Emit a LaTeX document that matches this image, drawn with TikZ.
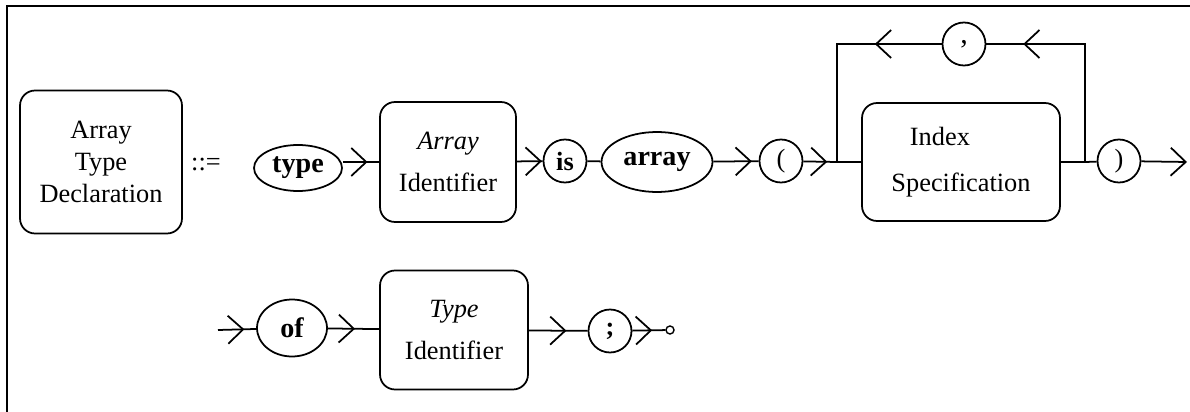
\documentclass[tikz,border=0pt]{standalone}
\usepackage{fontspec}
\setmainfont{Liberation Serif}
\usetikzlibrary{arrows.meta,shapes.geometric,decorations.markings}
\tikzset{
  rule/.style={draw,rounded corners=0.3cm,inner sep=0pt,align=center},
  word/.style={draw,ellipse,inner sep=0pt,execute at begin node=\fontsize{16}{19}\selectfont\bfseries},
  sym/.style={draw,circle,inner sep=0pt,minimum size=0.86cm},
  flow/.style={postaction={decorate},
    decoration={markings,mark=at position #1 with {\arrow{Straight Barb[length=3mm,width=5.6mm]}}}},
  tip/.style={-{Straight Barb[length=3mm,width=5.6mm]}}
}
\begin{document}
\begin{tikzpicture}[x=0.02cm,y=-0.02cm,line width=1pt,font=\fontsize{15}{18}\selectfont]
      \useasboundingbox (0,0) rectangle (1190,412);
      \draw (7,412) -- (7,6) -- (1190,6);
      \node[rule,minimum width=3.24cm,minimum height=2.86cm] (decl) at (101,162) {Array\\Type\\Declaration};
      \node (def) at (206,165) {::=};
      \node[word,minimum width=1.76cm,minimum height=0.92cm] (type) at (298,168) {type};
      \node[rule,minimum width=2.72cm,minimum height=2.4cm] (aid) at (448,162) {\textit{Array}\\[6pt]Identifier};
      \node[sym,execute at begin node=\bfseries] (is) at (565,161) {is};
      \node[word,minimum width=2.22cm,minimum height=1.2cm] (arr) at (657,162) {array};
      \node[sym] (lp) at (781,161) {(};
      \node[rule,minimum width=3.96cm,minimum height=2.36cm] (idx) at (961,162) {Index\hspace*{24pt}\\[8pt]Specification};
      \node[sym,font=\fontsize{17}{20}\selectfont] (comma) at (964,44) {,};
      \node[sym] (rp) at (1119,161) {)};
      \coordinate (jl) at (837,162);
      \coordinate (jr) at (1085,162);
      \coordinate (exit) at (1187,162);
      \coordinate (entry) at (218,330);
      \node[word,minimum width=1.4cm,minimum height=1.14cm] (of) at (292,328) {of};
      \node[rule,minimum width=2.96cm,minimum height=2.38cm] (tid) at (454,330) {\textit{Type}\\[6pt]Identifier};
      \node[sym,execute at begin node=\bfseries] (semi) at (610,331) {;};
      \node[draw,circle,inner sep=0pt,minimum size=0.16cm,line width=0.8pt] (stop) at (670,330) {};
      \begin{scope}[-]
        \draw[flow=0.68] (type.east |- aid) -- (aid);
        \draw[flow=0.97] (aid) -- (is);
        \draw (is) -- (arr);
        \draw[flow=0.85] (arr) -- (lp);
        \draw[flow=0.71] (lp) -- (jl);
        \draw (jl) -- (idx);
        \draw (idx) -- (jr) -- (rp);
        \draw[flow=0.83] (jr) |- (comma);
        \draw[flow=0.30] (comma) -| (jl);
        \draw[tip] (rp) -- (exit);
        \draw[flow=0.69] (entry) -- (of);
        \draw[flow=0.53] (of) -- (tid);
        \draw[flow=0.64] (tid) -- (semi);
        \draw[flow=0.6] (semi) -- (stop);
      \end{scope}
    \end{tikzpicture}
\end{document}
